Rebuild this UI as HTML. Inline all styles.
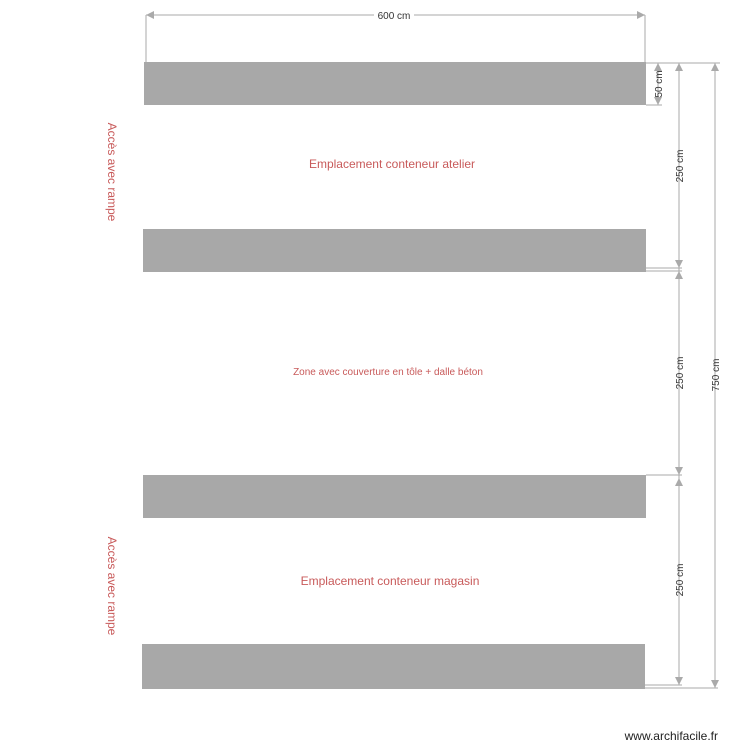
<!DOCTYPE html><html><head><meta charset="utf-8"><style>body{margin:0;background:#fff}svg{display:block}text{font-family:"Liberation Sans",sans-serif}</style></head><body>
<svg width="750" height="750" viewBox="0 0 750 750">
<rect width="750" height="750" fill="#fff"/>
<g fill="#a8a8a8">
<rect x="144" y="62" width="502" height="43"/>
<rect x="143" y="229" width="503" height="43"/>
<rect x="143" y="475" width="503" height="43"/>
<rect x="142" y="644" width="503" height="45"/>
</g>
<g stroke="#aaa" stroke-width="1" fill="none">
<line x1="146" y1="15" x2="645" y2="15"/>
<line x1="146" y1="15" x2="146" y2="62"/>
<line x1="645" y1="15" x2="645" y2="62"/>
<line x1="646" y1="63" x2="720" y2="63"/>
<line x1="646" y1="105" x2="662" y2="105"/>
<line x1="658" y1="63" x2="658" y2="105"/>
<line x1="679" y1="63" x2="679" y2="685"/>
<line x1="715" y1="63" x2="715" y2="688"/>
<line x1="646" y1="268" x2="682" y2="268"/>
<line x1="646" y1="271" x2="682" y2="271"/>
<line x1="646" y1="475" x2="682" y2="475"/>
<line x1="645" y1="685" x2="682" y2="685"/>
<line x1="645" y1="688" x2="718" y2="688"/>
</g>
<g fill="#aaa">
<path d="M146 15l8-4v8z"/><path d="M645 15l-8-4v8z"/>
<path d="M658 63l-4 8h8z"/><path d="M658 105l-4-8h8z"/>
<path d="M679 63l-4 8h8z"/><path d="M679 268l-4-8h8z"/>
<path d="M679 271l-4 8h8z"/><path d="M679 475l-4-8h8z"/>
<path d="M679 478l-4 8h8z"/><path d="M679 685l-4-8h8z"/>
<path d="M715 63l-4 8h8z"/><path d="M715 688l-4-8h8z"/>
</g>
<g font-size="10" fill="#333">
<rect x="374" y="9" width="40" height="12" fill="#fff"/>
<text x="394" y="19" text-anchor="middle">600 cm</text>
<text transform="translate(662,84) rotate(-90)" text-anchor="middle">50 cm</text>
<text transform="translate(683,166) rotate(-90)" text-anchor="middle">250 cm</text>
<text transform="translate(683,373) rotate(-90)" text-anchor="middle">250 cm</text>
<text transform="translate(683,580) rotate(-90)" text-anchor="middle">250 cm</text>
<text transform="translate(719,375) rotate(-90)" text-anchor="middle">750 cm</text>
</g>
<g fill="#c85a5a">
<text x="392" y="168" font-size="12" text-anchor="middle">Emplacement conteneur atelier</text>
<text x="388" y="375" font-size="10" text-anchor="middle">Zone avec couverture en tôle + dalle béton</text>
<text x="390" y="585" font-size="12" text-anchor="middle">Emplacement conteneur magasin</text>
<text transform="translate(108,172) rotate(90)" font-size="12" text-anchor="middle">Accès avec rampe</text>
<text transform="translate(108,586) rotate(90)" font-size="12" text-anchor="middle">Accès avec rampe</text>
</g>
<text x="718" y="740" font-size="12" fill="#222" text-anchor="end">www.archifacile.fr</text>
</svg></body></html>
